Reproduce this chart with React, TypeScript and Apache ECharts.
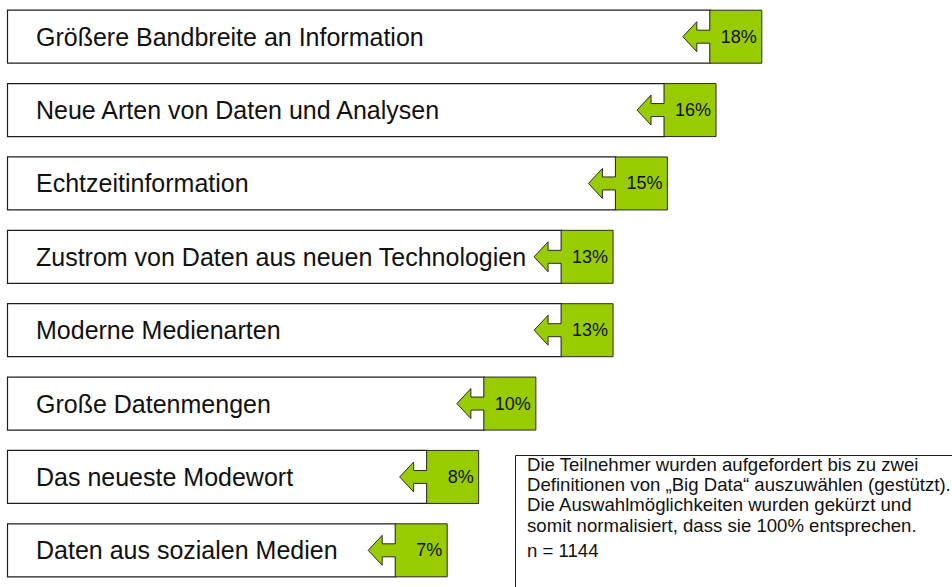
import React, { useEffect, useRef } from "react";
import * as echarts from "echarts";

const categories: string[] = [
  "Größere Bandbreite an Information",
  "Neue Arten von Daten und Analysen",
  "Echtzeitinformation",
  "Zustrom von Daten aus neuen Technologien",
  "Moderne Medienarten",
  "Große Datenmengen",
  "Das neueste Modewort",
  "Daten aus sozialen Medien",
];

// underlying shares (%); labels show rounded values
const shares: number[] = [18.0, 16.4, 14.7, 12.8, 12.8, 10.1, 8.1, 7.0];

const noteLines: string[] = [
  "Die Teilnehmer wurden aufgefordert bis zu zwei",
  "Definitionen von „Big Data“ auszuwählen (gestützt).",
  "Die Auswahlmöglichkeiten wurden gekürzt und",
  "somit normalisiert, dass sie 100% entsprechen.",
];
const noteN = "n = 1144";

const FONT = '"Liberation Sans", Arial, Helvetica, sans-serif';
const GREEN = "#99cc00";

export default function App() {
  const ref = useRef<HTMLDivElement>(null);

  useEffect(() => {
    if (!ref.current) return;
    const chart = echarts.init(ref.current, null, { renderer: "svg" });

    const boxLeft = 7;
    const boxH = 53;
    const greenW = 52;

    const option: any = {
      animation: false,
      backgroundColor: "#ffffff",
      grid: { left: 247, width: 572, top: -8.75, bottom: -8.25 },
      xAxis: { type: "value", min: 0, max: 20, show: false },
      yAxis: {
        type: "category",
        data: categories,
        inverse: true,
        show: false,
      },
      series: [
        {
          type: "custom",
          clip: false,
          encode: { x: 0, y: 1 },
          data: shares.map((v, i) => [v, i]),
          renderItem: (params: any, api: any) => {
            const v = api.value(0) as number;
            const idx = api.value(1) as number;
            const pt = api.coord([v, idx]);
            const xR = pt[0];
            const yc = pt[1];
            const xL = xR - greenW;
            const top = yc - boxH / 2;
            const bot = yc + boxH / 2;
            const poly = [
              [xL, top],
              [xR, top],
              [xR, bot],
              [xL, bot],
              [xL, yc + 6.5],
              [xL - 13, yc + 6.5],
              [xL - 13, yc + 15],
              [xL - 27, yc],
              [xL - 13, yc - 15],
              [xL - 13, yc - 6.5],
              [xL, yc - 6.5],
            ];
            return {
              type: "group",
              children: [
                {
                  type: "rect",
                  shape: { x: boxLeft + 0.5, y: top, width: xL - boxLeft, height: boxH },
                  style: { fill: "#ffffff", stroke: "#1e1e1e", lineWidth: 1.2 },
                },
                {
                  type: "text",
                  style: {
                    text: categories[idx],
                    x: boxLeft + 29,
                    y: yc,
                    align: "left",
                    verticalAlign: "middle",
                    fontSize: 25,
                    fontFamily: FONT,
                    fill: "#111111",
                  },
                },
                {
                  type: "polygon",
                  shape: { points: poly },
                  style: { fill: GREEN, stroke: "#2a2a2a", lineWidth: 1 },
                },
                {
                  type: "text",
                  style: {
                    text: Math.round(v) + "%",
                    x: xR - 5,
                    y: yc,
                    align: "right",
                    verticalAlign: "middle",
                    fontSize: 18,
                    fontFamily: FONT,
                    fill: "#111111",
                  },
                },
              ],
            };
          },
        },
      ],
      graphic: [
        {
          type: "rect",
          shape: { x: 515.5, y: 455.5, width: 460, height: 160 },
          style: { fill: "#ffffff", stroke: "#1e1e1e", lineWidth: 1 },
          z: 10,
        },
        {
          type: "text",
          x: 527,
          y: 454,
          z: 11,
          style: {
            text: noteLines.join("\n"),
            fontSize: 18.6,
            lineHeight: 20.3,
            fontFamily: FONT,
            fill: "#111111",
            verticalAlign: "top",
          },
        },
        {
          type: "text",
          x: 527,
          y: 540,
          z: 11,
          style: {
            text: noteN,
            fontSize: 18.6,
            lineHeight: 20,
            fontFamily: FONT,
            fill: "#111111",
            verticalAlign: "top",
          },
        },
      ],
    };

    chart.setOption(option);
    return () => chart.dispose();
  }, []);

  return (
    <div
      ref={ref}
      style={{ position: "absolute", left: 0, top: 0, width: 952, height: 587 }}
    />
  );
}
